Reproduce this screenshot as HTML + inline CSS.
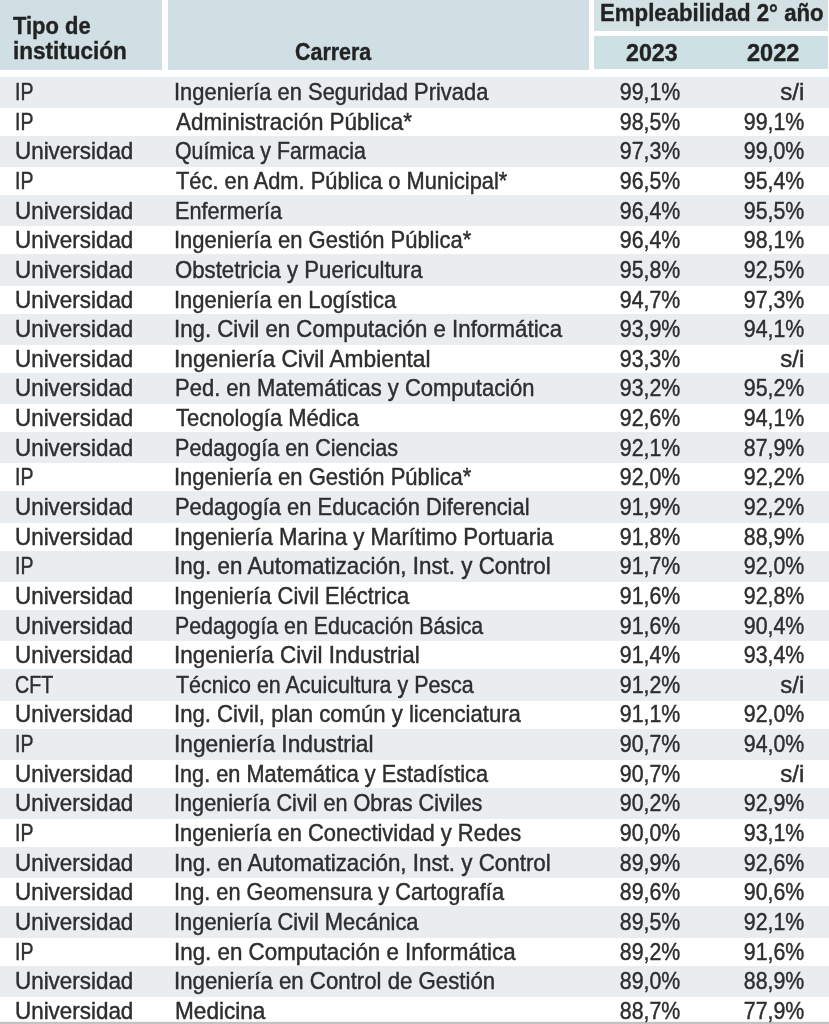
<!DOCTYPE html>
<html><head><meta charset="utf-8"><style>
html,body{margin:0;padding:0;background:#fff;}
body{width:829px;height:1024px;position:relative;overflow:hidden;font-family:"Liberation Sans",sans-serif;color:#2b2e30;}
.b{position:absolute;}
.t{position:absolute;white-space:nowrap;line-height:30px;-webkit-text-stroke:0.45px currentColor;filter:grayscale(1);}
.h{-webkit-text-stroke:0.4px currentColor;}
.l{transform-origin:left center;}
.r{transform-origin:right center;}
</style></head><body>
<div class="b" style="left:0;top:0;width:162.3px;height:69.5px;background:#cfdfe4"></div>
<div class="b" style="left:167.7px;top:0;width:421.09999999999997px;height:69.5px;background:#cfdfe4"></div>
<div class="b" style="left:594px;top:0;width:234px;height:30.8px;background:#d3e0e4"></div>
<div class="b" style="left:594px;top:36.4px;width:234px;height:33.1px;background:#cde0e3"></div>
<div class="b" style="left:0;top:76.50px;width:829px;height:31.3px;background:#eaedef"></div>
<div class="b" style="left:0;top:135.78px;width:829px;height:31.3px;background:#eaedef"></div>
<div class="b" style="left:0;top:195.06px;width:829px;height:31.3px;background:#eaedef"></div>
<div class="b" style="left:0;top:254.34px;width:829px;height:31.3px;background:#eaedef"></div>
<div class="b" style="left:0;top:313.62px;width:829px;height:31.3px;background:#eaedef"></div>
<div class="b" style="left:0;top:372.90px;width:829px;height:31.3px;background:#eaedef"></div>
<div class="b" style="left:0;top:432.18px;width:829px;height:31.3px;background:#eaedef"></div>
<div class="b" style="left:0;top:491.46px;width:829px;height:31.3px;background:#eaedef"></div>
<div class="b" style="left:0;top:550.74px;width:829px;height:31.3px;background:#eaedef"></div>
<div class="b" style="left:0;top:610.02px;width:829px;height:31.3px;background:#eaedef"></div>
<div class="b" style="left:0;top:669.30px;width:829px;height:31.3px;background:#eaedef"></div>
<div class="b" style="left:0;top:728.58px;width:829px;height:31.3px;background:#eaedef"></div>
<div class="b" style="left:0;top:787.86px;width:829px;height:31.3px;background:#eaedef"></div>
<div class="b" style="left:0;top:847.14px;width:829px;height:31.3px;background:#eaedef"></div>
<div class="b" style="left:0;top:906.42px;width:829px;height:31.3px;background:#eaedef"></div>
<div class="b" style="left:0;top:965.70px;width:829px;height:31.3px;background:#eaedef"></div>
<div class="b" style="left:0;top:1021px;width:829px;height:1px;background:#f2f2f2"></div>
<div class="b" style="left:0;top:1022px;width:829px;height:2px;background:#c3c3c3"></div>
<div class="t l h" style="left:13.38px;top:11.05px;font-size:24.1px;transform:scaleX(0.9106);font-weight:bold;color:#1e2228;">Tipo de</div>
<div class="t l h" style="left:12.72px;top:35.55px;font-size:24.1px;transform:scaleX(0.9343);font-weight:bold;color:#1e2228;">institución</div>
<div class="t l h" style="left:295.14px;top:36.95px;font-size:24.1px;transform:scaleX(0.8899);font-weight:bold;color:#1e2228;">Carrera</div>
<div class="t l h" style="left:599.96px;top:-2.35px;font-size:24.1px;transform:scaleX(0.9219);font-weight:bold;color:#1e2228;">Empleabilidad 2° año</div>
<div class="t l h" style="left:626.39px;top:37.65px;font-size:24.1px;transform:scaleX(0.9627);font-weight:bold;color:#1e2228;">2023</div>
<div class="t l h" style="left:747.17px;top:37.65px;font-size:24.1px;transform:scaleX(0.9785);font-weight:bold;color:#1e2228;">2022</div>
<div class="t l" style="left:14.74px;top:77.05px;font-size:24.1px;transform:scaleX(0.8093);">IP</div>
<div class="t l" style="left:174.43px;top:77.05px;font-size:24.1px;transform:scaleX(0.9096);">Ingeniería en Seguridad Privada</div>
<div class="t r" style="right:148.44px;top:77.05px;font-size:24.1px;transform:scaleX(0.886);">99,1%</div>
<div class="t r" style="right:24.63px;top:77.05px;font-size:24.1px;transform:scaleX(1.0);">s/i</div>
<div class="t l" style="left:14.74px;top:106.69px;font-size:24.1px;transform:scaleX(0.8093);">IP</div>
<div class="t l" style="left:176.40px;top:106.69px;font-size:24.1px;transform:scaleX(0.9327);">Administración Pública*</div>
<div class="t r" style="right:148.44px;top:106.69px;font-size:24.1px;transform:scaleX(0.886);">98,5%</div>
<div class="t r" style="right:24.34px;top:106.69px;font-size:24.1px;transform:scaleX(0.886);">99,1%</div>
<div class="t l" style="left:14.62px;top:136.33px;font-size:24.1px;transform:scaleX(0.93);">Universidad</div>
<div class="t l" style="left:175.44px;top:136.33px;font-size:24.1px;transform:scaleX(0.8849);">Química y Farmacia</div>
<div class="t r" style="right:148.44px;top:136.33px;font-size:24.1px;transform:scaleX(0.886);">97,3%</div>
<div class="t r" style="right:24.34px;top:136.33px;font-size:24.1px;transform:scaleX(0.886);">99,0%</div>
<div class="t l" style="left:14.74px;top:165.97px;font-size:24.1px;transform:scaleX(0.8093);">IP</div>
<div class="t l" style="left:175.96px;top:165.97px;font-size:24.1px;transform:scaleX(0.9061);">Téc. en Adm. Pública o Municipal*</div>
<div class="t r" style="right:148.44px;top:165.97px;font-size:24.1px;transform:scaleX(0.886);">96,5%</div>
<div class="t r" style="right:24.34px;top:165.97px;font-size:24.1px;transform:scaleX(0.886);">95,4%</div>
<div class="t l" style="left:14.62px;top:195.61px;font-size:24.1px;transform:scaleX(0.93);">Universidad</div>
<div class="t l" style="left:174.67px;top:195.61px;font-size:24.1px;transform:scaleX(0.8981);">Enfermería</div>
<div class="t r" style="right:148.44px;top:195.61px;font-size:24.1px;transform:scaleX(0.886);">96,4%</div>
<div class="t r" style="right:24.34px;top:195.61px;font-size:24.1px;transform:scaleX(0.886);">95,5%</div>
<div class="t l" style="left:14.62px;top:225.25px;font-size:24.1px;transform:scaleX(0.93);">Universidad</div>
<div class="t l" style="left:174.42px;top:225.25px;font-size:24.1px;transform:scaleX(0.9131);">Ingeniería en Gestión Pública*</div>
<div class="t r" style="right:148.44px;top:225.25px;font-size:24.1px;transform:scaleX(0.886);">96,4%</div>
<div class="t r" style="right:24.34px;top:225.25px;font-size:24.1px;transform:scaleX(0.886);">98,1%</div>
<div class="t l" style="left:14.62px;top:254.89px;font-size:24.1px;transform:scaleX(0.93);">Universidad</div>
<div class="t l" style="left:175.40px;top:254.89px;font-size:24.1px;transform:scaleX(0.9198);">Obstetricia y Puericultura</div>
<div class="t r" style="right:148.44px;top:254.89px;font-size:24.1px;transform:scaleX(0.886);">95,8%</div>
<div class="t r" style="right:24.34px;top:254.89px;font-size:24.1px;transform:scaleX(0.886);">92,5%</div>
<div class="t l" style="left:14.62px;top:284.53px;font-size:24.1px;transform:scaleX(0.93);">Universidad</div>
<div class="t l" style="left:174.42px;top:284.53px;font-size:24.1px;transform:scaleX(0.911);">Ingeniería en Logística</div>
<div class="t r" style="right:148.44px;top:284.53px;font-size:24.1px;transform:scaleX(0.886);">94,7%</div>
<div class="t r" style="right:24.34px;top:284.53px;font-size:24.1px;transform:scaleX(0.886);">97,3%</div>
<div class="t l" style="left:14.62px;top:314.17px;font-size:24.1px;transform:scaleX(0.93);">Universidad</div>
<div class="t l" style="left:174.40px;top:314.17px;font-size:24.1px;transform:scaleX(0.9229);">Ing. Civil en Computación e Informática</div>
<div class="t r" style="right:148.44px;top:314.17px;font-size:24.1px;transform:scaleX(0.886);">93,9%</div>
<div class="t r" style="right:24.34px;top:314.17px;font-size:24.1px;transform:scaleX(0.886);">94,1%</div>
<div class="t l" style="left:14.62px;top:343.81px;font-size:24.1px;transform:scaleX(0.93);">Universidad</div>
<div class="t l" style="left:174.35px;top:343.81px;font-size:24.1px;transform:scaleX(0.9436);">Ingeniería Civil Ambiental</div>
<div class="t r" style="right:148.44px;top:343.81px;font-size:24.1px;transform:scaleX(0.886);">93,3%</div>
<div class="t r" style="right:24.63px;top:343.81px;font-size:24.1px;transform:scaleX(1.0);">s/i</div>
<div class="t l" style="left:14.62px;top:373.45px;font-size:24.1px;transform:scaleX(0.93);">Universidad</div>
<div class="t l" style="left:174.64px;top:373.45px;font-size:24.1px;transform:scaleX(0.9131);">Ped. en Matemáticas y Computación</div>
<div class="t r" style="right:148.44px;top:373.45px;font-size:24.1px;transform:scaleX(0.886);">93,2%</div>
<div class="t r" style="right:24.34px;top:373.45px;font-size:24.1px;transform:scaleX(0.886);">95,2%</div>
<div class="t l" style="left:14.62px;top:403.09px;font-size:24.1px;transform:scaleX(0.93);">Universidad</div>
<div class="t l" style="left:175.96px;top:403.09px;font-size:24.1px;transform:scaleX(0.9107);">Tecnología Médica</div>
<div class="t r" style="right:148.44px;top:403.09px;font-size:24.1px;transform:scaleX(0.886);">92,6%</div>
<div class="t r" style="right:24.34px;top:403.09px;font-size:24.1px;transform:scaleX(0.886);">94,1%</div>
<div class="t l" style="left:14.62px;top:432.73px;font-size:24.1px;transform:scaleX(0.93);">Universidad</div>
<div class="t l" style="left:174.67px;top:432.73px;font-size:24.1px;transform:scaleX(0.8948);">Pedagogía en Ciencias</div>
<div class="t r" style="right:148.44px;top:432.73px;font-size:24.1px;transform:scaleX(0.886);">92,1%</div>
<div class="t r" style="right:24.34px;top:432.73px;font-size:24.1px;transform:scaleX(0.886);">87,9%</div>
<div class="t l" style="left:14.74px;top:462.37px;font-size:24.1px;transform:scaleX(0.8093);">IP</div>
<div class="t l" style="left:174.42px;top:462.37px;font-size:24.1px;transform:scaleX(0.9138);">Ingeniería en Gestión Pública*</div>
<div class="t r" style="right:148.44px;top:462.37px;font-size:24.1px;transform:scaleX(0.886);">92,0%</div>
<div class="t r" style="right:24.34px;top:462.37px;font-size:24.1px;transform:scaleX(0.886);">92,2%</div>
<div class="t l" style="left:14.62px;top:492.01px;font-size:24.1px;transform:scaleX(0.93);">Universidad</div>
<div class="t l" style="left:174.65px;top:492.01px;font-size:24.1px;transform:scaleX(0.9096);">Pedagogía en Educación Diferencial</div>
<div class="t r" style="right:148.44px;top:492.01px;font-size:24.1px;transform:scaleX(0.886);">91,9%</div>
<div class="t r" style="right:24.34px;top:492.01px;font-size:24.1px;transform:scaleX(0.886);">92,2%</div>
<div class="t l" style="left:14.62px;top:521.65px;font-size:24.1px;transform:scaleX(0.93);">Universidad</div>
<div class="t l" style="left:174.40px;top:521.65px;font-size:24.1px;transform:scaleX(0.923);">Ingeniería Marina y Marítimo Portuaria</div>
<div class="t r" style="right:148.44px;top:521.65px;font-size:24.1px;transform:scaleX(0.886);">91,8%</div>
<div class="t r" style="right:24.34px;top:521.65px;font-size:24.1px;transform:scaleX(0.886);">88,9%</div>
<div class="t l" style="left:14.74px;top:551.29px;font-size:24.1px;transform:scaleX(0.8093);">IP</div>
<div class="t l" style="left:174.39px;top:551.29px;font-size:24.1px;transform:scaleX(0.9284);">Ing. en Automatización, Inst. y Control</div>
<div class="t r" style="right:148.44px;top:551.29px;font-size:24.1px;transform:scaleX(0.886);">91,7%</div>
<div class="t r" style="right:24.34px;top:551.29px;font-size:24.1px;transform:scaleX(0.886);">92,0%</div>
<div class="t l" style="left:14.62px;top:580.93px;font-size:24.1px;transform:scaleX(0.93);">Universidad</div>
<div class="t l" style="left:174.43px;top:580.93px;font-size:24.1px;transform:scaleX(0.9099);">Ingeniería Civil Eléctrica</div>
<div class="t r" style="right:148.44px;top:580.93px;font-size:24.1px;transform:scaleX(0.886);">91,6%</div>
<div class="t r" style="right:24.34px;top:580.93px;font-size:24.1px;transform:scaleX(0.886);">92,8%</div>
<div class="t l" style="left:14.62px;top:610.57px;font-size:24.1px;transform:scaleX(0.93);">Universidad</div>
<div class="t l" style="left:174.69px;top:610.57px;font-size:24.1px;transform:scaleX(0.885);">Pedagogía en Educación Básica</div>
<div class="t r" style="right:148.44px;top:610.57px;font-size:24.1px;transform:scaleX(0.886);">91,6%</div>
<div class="t r" style="right:24.34px;top:610.57px;font-size:24.1px;transform:scaleX(0.886);">90,4%</div>
<div class="t l" style="left:14.62px;top:640.21px;font-size:24.1px;transform:scaleX(0.93);">Universidad</div>
<div class="t l" style="left:174.38px;top:640.21px;font-size:24.1px;transform:scaleX(0.9317);">Ingeniería Civil Industrial</div>
<div class="t r" style="right:148.44px;top:640.21px;font-size:24.1px;transform:scaleX(0.886);">91,4%</div>
<div class="t r" style="right:24.34px;top:640.21px;font-size:24.1px;transform:scaleX(0.886);">93,4%</div>
<div class="t l" style="left:14.72px;top:669.85px;font-size:24.1px;transform:scaleX(0.8144);">CFT</div>
<div class="t l" style="left:175.97px;top:669.85px;font-size:24.1px;transform:scaleX(0.8891);">Técnico en Acuicultura y Pesca</div>
<div class="t r" style="right:148.44px;top:669.85px;font-size:24.1px;transform:scaleX(0.886);">91,2%</div>
<div class="t r" style="right:24.63px;top:669.85px;font-size:24.1px;transform:scaleX(1.0);">s/i</div>
<div class="t l" style="left:14.62px;top:699.49px;font-size:24.1px;transform:scaleX(0.93);">Universidad</div>
<div class="t l" style="left:174.41px;top:699.49px;font-size:24.1px;transform:scaleX(0.9185);">Ing. Civil, plan común y licenciatura</div>
<div class="t r" style="right:148.44px;top:699.49px;font-size:24.1px;transform:scaleX(0.886);">91,1%</div>
<div class="t r" style="right:24.34px;top:699.49px;font-size:24.1px;transform:scaleX(0.886);">92,0%</div>
<div class="t l" style="left:14.74px;top:729.13px;font-size:24.1px;transform:scaleX(0.8093);">IP</div>
<div class="t l" style="left:174.35px;top:729.13px;font-size:24.1px;transform:scaleX(0.9429);">Ingeniería Industrial</div>
<div class="t r" style="right:148.44px;top:729.13px;font-size:24.1px;transform:scaleX(0.886);">90,7%</div>
<div class="t r" style="right:24.34px;top:729.13px;font-size:24.1px;transform:scaleX(0.886);">94,0%</div>
<div class="t l" style="left:14.62px;top:758.77px;font-size:24.1px;transform:scaleX(0.93);">Universidad</div>
<div class="t l" style="left:174.44px;top:758.77px;font-size:24.1px;transform:scaleX(0.9018);">Ing. en Matemática y Estadística</div>
<div class="t r" style="right:148.44px;top:758.77px;font-size:24.1px;transform:scaleX(0.886);">90,7%</div>
<div class="t r" style="right:24.63px;top:758.77px;font-size:24.1px;transform:scaleX(1.0);">s/i</div>
<div class="t l" style="left:14.62px;top:788.41px;font-size:24.1px;transform:scaleX(0.93);">Universidad</div>
<div class="t l" style="left:174.45px;top:788.41px;font-size:24.1px;transform:scaleX(0.8996);">Ingeniería Civil en Obras Civiles</div>
<div class="t r" style="right:148.44px;top:788.41px;font-size:24.1px;transform:scaleX(0.886);">90,2%</div>
<div class="t r" style="right:24.34px;top:788.41px;font-size:24.1px;transform:scaleX(0.886);">92,9%</div>
<div class="t l" style="left:14.74px;top:818.05px;font-size:24.1px;transform:scaleX(0.8093);">IP</div>
<div class="t l" style="left:174.43px;top:818.05px;font-size:24.1px;transform:scaleX(0.9096);">Ingeniería en Conectividad y Redes</div>
<div class="t r" style="right:148.44px;top:818.05px;font-size:24.1px;transform:scaleX(0.886);">90,0%</div>
<div class="t r" style="right:24.34px;top:818.05px;font-size:24.1px;transform:scaleX(0.886);">93,1%</div>
<div class="t l" style="left:14.62px;top:847.69px;font-size:24.1px;transform:scaleX(0.93);">Universidad</div>
<div class="t l" style="left:174.39px;top:847.69px;font-size:24.1px;transform:scaleX(0.9284);">Ing. en Automatización, Inst. y Control</div>
<div class="t r" style="right:148.44px;top:847.69px;font-size:24.1px;transform:scaleX(0.886);">89,9%</div>
<div class="t r" style="right:24.34px;top:847.69px;font-size:24.1px;transform:scaleX(0.886);">92,6%</div>
<div class="t l" style="left:14.62px;top:877.33px;font-size:24.1px;transform:scaleX(0.93);">Universidad</div>
<div class="t l" style="left:174.44px;top:877.33px;font-size:24.1px;transform:scaleX(0.9025);">Ing. en Geomensura y Cartografía</div>
<div class="t r" style="right:148.44px;top:877.33px;font-size:24.1px;transform:scaleX(0.886);">89,6%</div>
<div class="t r" style="right:24.34px;top:877.33px;font-size:24.1px;transform:scaleX(0.886);">90,6%</div>
<div class="t l" style="left:14.62px;top:906.97px;font-size:24.1px;transform:scaleX(0.93);">Universidad</div>
<div class="t l" style="left:174.43px;top:906.97px;font-size:24.1px;transform:scaleX(0.9085);">Ingeniería Civil Mecánica</div>
<div class="t r" style="right:148.44px;top:906.97px;font-size:24.1px;transform:scaleX(0.886);">89,5%</div>
<div class="t r" style="right:24.34px;top:906.97px;font-size:24.1px;transform:scaleX(0.886);">92,1%</div>
<div class="t l" style="left:14.74px;top:936.61px;font-size:24.1px;transform:scaleX(0.8093);">IP</div>
<div class="t l" style="left:174.39px;top:936.61px;font-size:24.1px;transform:scaleX(0.9276);">Ing. en Computación e Informática</div>
<div class="t r" style="right:148.44px;top:936.61px;font-size:24.1px;transform:scaleX(0.886);">89,2%</div>
<div class="t r" style="right:24.34px;top:936.61px;font-size:24.1px;transform:scaleX(0.886);">91,6%</div>
<div class="t l" style="left:14.62px;top:966.25px;font-size:24.1px;transform:scaleX(0.93);">Universidad</div>
<div class="t l" style="left:174.40px;top:966.25px;font-size:24.1px;transform:scaleX(0.9221);">Ingeniería en Control de Gestión</div>
<div class="t r" style="right:148.44px;top:966.25px;font-size:24.1px;transform:scaleX(0.886);">89,0%</div>
<div class="t r" style="right:24.34px;top:966.25px;font-size:24.1px;transform:scaleX(0.886);">88,9%</div>
<div class="t l" style="left:14.62px;top:995.89px;font-size:24.1px;transform:scaleX(0.93);">Universidad</div>
<div class="t l" style="left:174.59px;top:995.89px;font-size:24.1px;transform:scaleX(0.9378);">Medicina</div>
<div class="t r" style="right:148.44px;top:995.89px;font-size:24.1px;transform:scaleX(0.886);">88,7%</div>
<div class="t r" style="right:24.34px;top:995.89px;font-size:24.1px;transform:scaleX(0.886);">77,9%</div>
</body></html>
